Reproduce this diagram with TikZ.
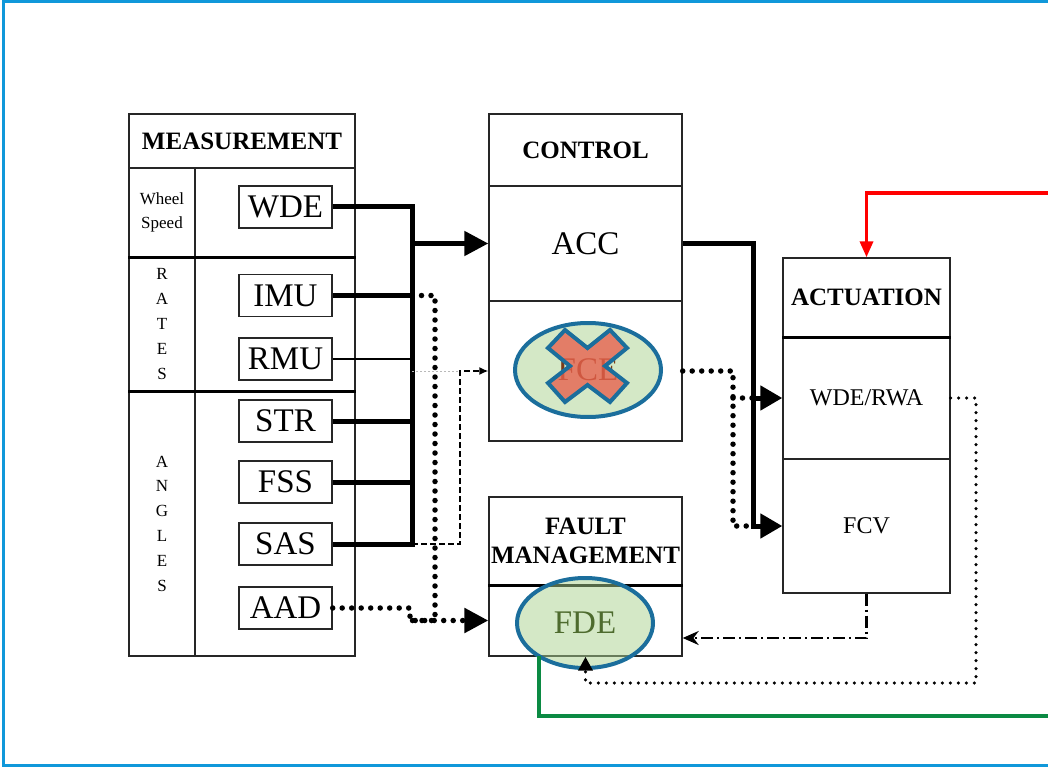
\documentclass[tikz,border=0pt]{standalone}
\usepackage{fontspec}
\setmainfont{Liberation Serif}
\usetikzlibrary{arrows.meta,shapes.geometric,calc}
\definecolor{frameblue}{HTML}{1098DA}
\definecolor{ellblue}{HTML}{1B6E9C}
\definecolor{ellgreen}{HTML}{A9D18E}
\definecolor{xred}{HTML}{E8604C}
\definecolor{fdetext}{HTML}{4E6B2E}
\definecolor{fcetext}{HTML}{7A3A18}
\definecolor{gline}{HTML}{0B8A43}
\begin{document}
\begin{tikzpicture}[x=1pt,y=-1pt,
  cell/.style={draw=black!85, line width=1.4pt, inner sep=0pt, rectangle, align=center},
  head/.style={font=\bfseries\fontsize{25}{29}\selectfont},
  big/.style={font=\fontsize{33}{35}\selectfont},
  mid/.style={font=\fontsize{24}{26}\selectfont},
  vlet/.style={font=\fontsize{17}{24.8}\selectfont},
  sensor/.style={cell, minimum width=93pt, minimum height=42pt, font=\fontsize{33}{35}\selectfont},
  sepline/.style={line width=3pt},
  bus/.style={line width=5pt},
  bigtip/.style={-{Triangle[length=24pt,width=24pt]}},
  midtip/.style={-{Triangle[length=22pt,width=24pt]}},
  dotline/.style={line width=5.5pt, line cap=round, dash pattern=on 0pt off 9.5pt},
  smalldot/.style={line width=3.5pt, line cap=round, dash pattern=on 0pt off 8pt},
  thindash/.style={line width=1.5pt, dash pattern=on 6pt off 3pt},
  dashdot/.style={line width=2.5pt, dash pattern=on 12pt off 4pt on 2pt off 4pt},
  ell/.style={ellipse, draw=ellblue, line width=4pt, fill=ellgreen, fill opacity=0.5, text opacity=1, inner sep=0pt, font=\fontsize{33}{35}\selectfont},
  redline/.style={red, line width=3.5pt},
  greenline/.style={gline, line width=3.5pt}
]
\useasboundingbox (0,0) rectangle (1048,767);
% frame
\draw[frameblue, line width=3pt] (1060,2) -- (3,2) -- (3,765) -- (1060,765);

% ---------- MEASUREMENT ----------
\node[cell, head, minimum width=226pt, minimum height=54pt] (meashead) at (242,141) {MEASUREMENT};
\node[cell, minimum width=66pt, minimum height=89pt, font=\fontsize{17}{24}\selectfont] (wheellab) at (162,212.5) {Wheel\\Speed};
\node[cell, minimum width=160pt, minimum height=89pt] (wheelcell) at (275,212.5) {};
\node[cell, vlet, minimum width=66pt, minimum height=134pt] (rateslab) at (162,324) {R\\A\\T\\E\\S};
\node[cell, minimum width=160pt, minimum height=134pt] (ratescell) at (275,324) {};
\node[cell, vlet, minimum width=66pt, minimum height=265pt] (angleslab) at (162,523.5) {A\\N\\G\\L\\E\\S};
\node[cell, minimum width=160pt, minimum height=265pt] (anglescell) at (275,523.5) {};
\draw[sepline] (wheellab.south west) -- (wheelcell.south east);
\draw[sepline] (rateslab.south west) -- (ratescell.south east);

\node[sensor] (wde) at (285.5,207) {WDE};
\node[sensor] (imu) at (285.5,295.5) {IMU};
\node[sensor] (rmu) at (285.5,359) {RMU};
\node[sensor] (str) at (285.5,421) {STR};
\node[sensor] (fss) at (285.5,482) {FSS};
\node[sensor] (sas) at (285.5,544) {SAS};
\node[sensor] (aad) at (285.5,608) {AAD};

% ---------- CONTROL ----------
\node[cell, head, minimum width=193pt, minimum height=72pt] (ctrlhead) at (585.5,150) {CONTROL};
\node[cell, big, minimum width=193pt, minimum height=115pt] (acc) at (585.5,243.5) {ACC};
\node[cell, minimum width=193pt, minimum height=140pt] (fce) at (585.5,371) {};

% ---------- FAULT MANAGEMENT ----------
\node[cell, head, minimum width=193pt, minimum height=88pt] (fmhead) at (585.5,541) {FAULT\\MANAGEMENT};
\node[cell, minimum width=193pt, minimum height=71pt] (fdecell) at (585.5,620.5) {};
\draw[sepline] (fmhead.south west) -- (fmhead.south east);

% ---------- ACTUATION ----------
\node[cell, head, minimum width=167pt, minimum height=79pt] (acthead) at (866.5,297.5) {ACTUATION};
\node[cell, mid, minimum width=167pt, minimum height=122pt] (wderwa) at (866.5,398) {WDE/RWA};
\node[cell, mid, minimum width=167pt, minimum height=134pt] (fcv) at (866.5,526) {FCV};
\draw[sepline] (acthead.south west) -- (acthead.south east);

% ---------- helper coordinates ----------
\coordinate (bx) at (412,0);
\coordinate (dx) at (460,0);
\coordinate (dotx) at (435,0);
\coordinate (ax) at (410,0);
\coordinate (tx) at (753,0);
\coordinate (fx) at (733,0);
\coordinate (rx) at (976,0);
\coordinate (ry) at (0,683);
\coordinate (cy) at (0,638);
\coordinate (redstart) at (1060,193);
\coordinate (gstart) at (539,656);
\coordinate (gend) at (1060,716);

% ---------- connectors ----------
% sensor bus
\draw[bus] (wde.east) -- (wde.east -| bx) -- (sas.east -| bx) -- (sas.east);
\draw[bus] (imu.east) -- (imu.east -| bx);
\draw[bus] (str.east) -- (str.east -| bx);
\draw[bus] (fss.east) -- (fss.east -| bx);
\draw[line width=1.2pt] (rmu.east) -- (rmu.east -| bx);
\draw[bus, bigtip] (acc.west -| bx) -- (acc.west);
% SAS dashed to FCE
\draw[gray!55, line width=1pt, dash pattern=on 2pt off 2pt] (fce.west -| bx) -- (fce.west -| dx);
\draw[thindash, -{Latex[length=9pt,width=8pt]}] (sas.east -| bx) -- (sas.east -| dx) -- (fce.west -| dx) -- (fce.west);
% dotted to FDE
\draw[dotline] (imu.east -| bx) -- (imu.east -| dotx) -- (fdecell.west -| dotx) -- (fdecell.west -| ax);
\draw[dotline, bigtip] (aad.east) -- (aad.east -| ax) -- (fdecell.west -| ax) -- (fdecell.west);
% ACC to actuation
\draw[dotline] (fce.east) -- (fce.east -| fx) -- (fcv.west -| fx) -- (fcv.west -| tx);
\draw[dotline] (wderwa.west -| fx) -- (wderwa.west -| tx);
\draw[bus, midtip] (acc.east) -- (acc.east -| tx) -- (fcv.west -| tx) -- (fcv.west);
\draw[bus, midtip] (wderwa.west -| tx) -- (wderwa.west);
% FCV to FDE
\draw[dashdot, -{Stealth[length=16pt,width=14pt]}] (fcv.south) -- (fcv.south |- cy) -- (fdecell.east |- cy);

% ---------- ellipses ----------
\node[ell, text=fcetext, minimum width=146pt, minimum height=94pt] (fceell) at (588,370) {FCE};
\draw[fill=xred, fill opacity=0.78, draw=ellblue, line width=4pt, line join=miter, shift={(587.5,366)}]
  (0,-18) -- (22.5,-36) -- (39.5,-18) -- (17.5,0) -- (39.5,17) -- (22.5,36) -- (0,19) -- (-22.5,36) -- (-39.5,17) -- (-17.5,0) -- (-39.5,-18) -- (-22.5,-36) -- cycle;
\node[ell, text=fdetext, minimum width=136pt, minimum height=90pt] (fdeell) at (585,623) {FDE};

% WDE/RWA to FDE
\draw[smalldot, -{Triangle[length=14pt,width=14pt]}] (wderwa.east) -- (wderwa.east -| rx) -- (rx |- ry) -- (fdecell.south |- ry) -- (fdecell.south);

% ---------- coloured lines ----------
\draw[redline, -{Triangle[length=16pt,width=13pt]}] (redstart) -| (acthead.north);
\draw[greenline] (gstart) |- (gend);
\end{tikzpicture}
\end{document}
